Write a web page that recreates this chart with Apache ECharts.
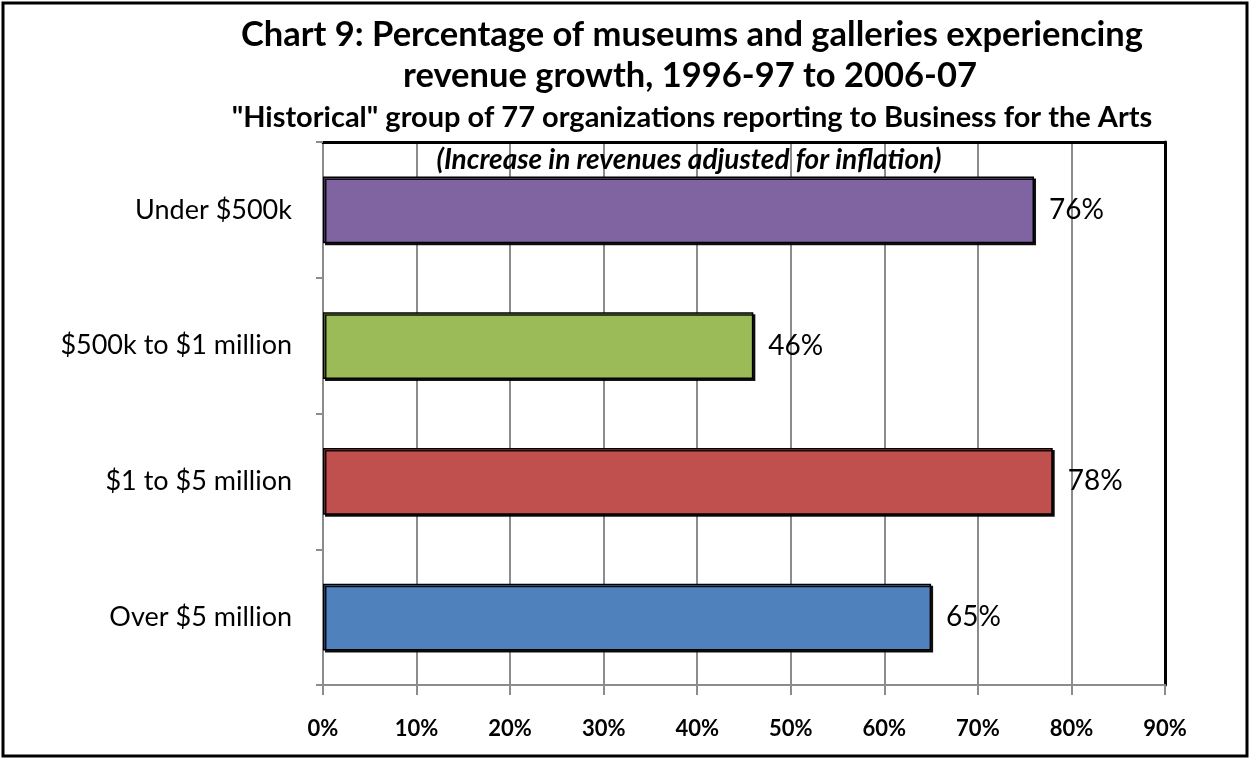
<!DOCTYPE html>
<html>
<head>
<meta charset="utf-8">
<script src="https://cdn.jsdelivr.net/npm/echarts@6/dist/echarts.min.js"></script>
<style>html,body{margin:0;padding:0;background:#fff}#c{width:1250px;height:759px}</style>
</head>
<body>
<div id="c"></div>
<script>
var categories = ['Over $5 million', '$1 to $5 million', '$500k to $1 million', 'Under $500k'];
var values = [65, 78, 46, 76];
var barColors = ['#4F81BD', '#C0504D', '#9BBB59', '#8064A2'];
var xTicks = [0, 10, 20, 30, 40, 50, 60, 70, 80, 90];
var titleLines = ['Chart 9: Percentage of museums and galleries experiencing', 'revenue growth, 1996-97 to 2006-07'];
var subtitle = '"Historical" group of 77 organizations reporting to Business for the Arts';
var note = '(Increase in revenues adjusted for inflation)';

var FONT = 'Lato, "Open Sans", sans-serif';
function txt(t, x, y, font) {
  return {type: 'text', z: 50, style: {text: t, x: x, y: y, textAlign: 'center', textVerticalAlign: 'middle', font: font, fill: '#000'}};
}
var chart = echarts.init(document.getElementById('c'));
chart.setOption({
  backgroundColor: '#fff',
  animation: false,
  textStyle: {fontFamily: FONT},
  graphic: [
    {type: 'rect', shape: {x: 3, y: 3, width: 1244, height: 753}, style: {fill: 'none', stroke: '#000', lineWidth: 3}, z: 100},
    txt(titleLines[0], 692, 35, 'bold 34.5px ' + FONT),
    txt(titleLines[1], 690, 76, 'bold 34.5px ' + FONT),
    txt(subtitle, 692, 118, 'bold 29px ' + FONT),
    txt(note, 689, 160, 'italic bold 28px ' + FONT)
  ],
  grid: {left: 323, right: 85, top: 142, bottom: 74, containLabel: false},
  xAxis: [{
    type: 'value', min: 0, max: 90, interval: 10,
    axisLine: {show: true, lineStyle: {color: '#8c8c8c', width: 2}},
    axisTick: {show: true, length: 10, lineStyle: {color: '#8c8c8c', width: 2}},
    splitLine: {show: true, lineStyle: {color: '#8c8c8c', width: 2}},
    axisLabel: {margin: 33, fontSize: 22, fontWeight: 'bold', color: '#000', fontFamily: FONT,
      formatter: function (v) { return xTicks.indexOf(v) >= 0 ? v + '%' : ''; }}
  }, {
    type: 'value', min: 0, max: 90, position: 'top',
    axisLine: {show: true, onZero: false, lineStyle: {color: '#000', width: 3}},
    axisTick: {show: false}, axisLabel: {show: false}, splitLine: {show: false}
  }],
  yAxis: [{
    type: 'category', data: categories,
    axisLine: {show: true, lineStyle: {color: '#8c8c8c', width: 2}},
    axisTick: {show: true, length: 7, lineStyle: {color: '#8c8c8c', width: 2}},
    axisLabel: {margin: 31, fontSize: 27, color: '#000', fontFamily: FONT}
  }, {
    type: 'category', data: categories, position: 'right',
    axisLine: {show: true, onZero: false, lineStyle: {color: '#000', width: 3}},
    axisTick: {show: false}, axisLabel: {show: false}
  }],
  series: [{
    type: 'bar', xAxisIndex: 0, yAxisIndex: 0,
    data: values.map(function (v, i) { return {value: v, itemStyle: {color: barColors[i]}}; }),
    barWidth: '49%',
    itemStyle: {borderColor: '#000', borderWidth: 1.5, shadowColor: 'rgba(0,0,0,0.9)', shadowOffsetX: 2, shadowOffsetY: 2, shadowBlur: 0},
    label: {show: true, position: 'right', distance: 15, fontSize: 28, color: '#000', fontFamily: FONT, formatter: '{c}%'}
  }]
});
</script>
</body>
</html>
